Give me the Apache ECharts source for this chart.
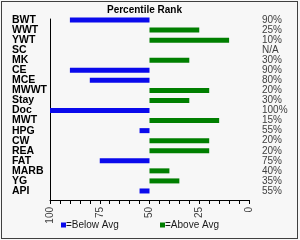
<!DOCTYPE html>
<html><head><meta charset="utf-8">
<script src="https://cdn.jsdelivr.net/npm/echarts@6/dist/echarts.min.js"></script>
<style>
html,body{margin:0;padding:0;background:#f7f7f7}
#c{width:300px;height:240px}
#b{position:absolute;left:1px;top:1px;width:297px;height:238px;box-sizing:border-box;border:1px solid #404040;pointer-events:none}
</style>
</head><body><div id="c"></div><div id="b"></div>
<script>
const categories = ['BWT','WWT','YWT','SC','MK','CE','MCE','MWWT','Stay','Doc','MWT','HPG','CW','REA','FAT','MARB','YG','API'];
const percentile = [90,25,10,null,30,90,80,20,30,100,15,55,20,20,75,40,35,55];
const avgLevel = 50;
const xTickLabels = [100,75,50,25,0];
const seriesNames = ['=Below Avg','=Above Avg'];

const FONT = 'Liberation Sans';
const BLUE = '#0a0aec';
const GREEN = '#007f00';

const below = percentile.map(p => (p != null && p > avgLevel) ? avgLevel - p : null);
const above = percentile.map(p => (p != null && p < avgLevel) ? avgLevel - p : null);
const pctLabels = percentile.map(p => p == null ? 'N/A' : p + '%');

const chart = echarts.init(document.getElementById('c'), null, {renderer:'canvas'});
function legendCfg(name, color, left){
  return {
    data:[name], left:left, top:219, icon:'none', itemWidth:0, itemHeight:0, padding:0,
    selectedMode:false,
    formatter: n => '{sq|}{t|' + n + '}',
    textStyle:{
      rich:{
        sq:{width:5,height:5,backgroundColor:color,verticalAlign:'middle'},
        t:{fontSize:10,fontFamily:FONT,color:'#1a1a1a',verticalAlign:'middle'}
      }
    }
  };
}
chart.setOption({
  animation:false,
  backgroundColor:'transparent',
  title:{text:'Percentile Rank', left:107, top:5, padding:0,
    textStyle:{fontSize:10, fontWeight:'bold', fontFamily:FONT, color:'#000'}},
  legend:[legendCfg(seriesNames[0], BLUE, 56), legendCfg(seriesNames[1], GREEN, 155)],
  grid:[
    {left:50, right:51, top:15, bottom:44, containLabel:false},
    {left:50, right:51, top:19, bottom:40, containLabel:false}
  ],
  xAxis:[
    {type:'value', gridIndex:0, min:avgLevel-100, max:avgLevel, interval:5, offset:4,
      axisLine:{show:true, lineStyle:{color:'#000', width:1}},
      axisTick:{show:true, length:4, lineStyle:{color:'#000'}},
      splitLine:{show:false},
      axisLabel:{rotate:90, margin:7, fontSize:10, fontFamily:FONT, color:'#404040',
        formatter: v => { const t = avgLevel - v; return xTickLabels.indexOf(t) >= 0 ? String(t) : ''; }}
    },
    {type:'value', gridIndex:1, show:false}
  ],
  yAxis:[
    {type:'category', gridIndex:0, data:categories, inverse:true,
      axisLine:{show:false}, axisTick:{show:false},
      axisLabel:{interval:0, align:'left', margin:38, fontSize:10.5, fontWeight:'bold', fontFamily:FONT, color:'#000'}},
    {type:'category', gridIndex:0, data:pctLabels, inverse:true, position:'right',
      axisLine:{show:false}, axisTick:{show:false},
      axisLabel:{interval:0, align:'left', margin:13, fontSize:10, fontFamily:FONT, color:'#404040'}},
    {type:'value', gridIndex:1, position:'left',
      axisLine:{show:true, lineStyle:{color:'#000', width:1}},
      axisTick:{show:false}, axisLabel:{show:false}, splitLine:{show:false}}
  ],
  series:[
    {name:seriesNames[0], type:'bar', xAxisIndex:0, yAxisIndex:0, stack:'s', data:below, barWidth:5,
      itemStyle:{color:BLUE}},
    {name:seriesNames[1], type:'bar', xAxisIndex:0, yAxisIndex:0, stack:'s', data:above, barWidth:5,
      itemStyle:{color:GREEN}}
  ]
});
</script>
</body></html>
